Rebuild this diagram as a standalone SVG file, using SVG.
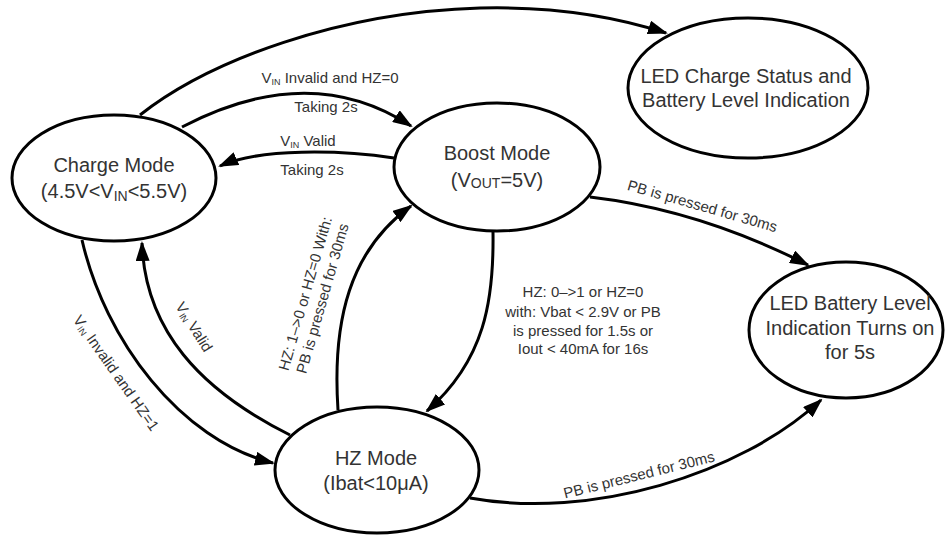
<svg xmlns="http://www.w3.org/2000/svg" width="945" height="535" viewBox="0 0 945 535">
<defs>
<marker id="arr" markerWidth="20" markerHeight="14" refX="18" refY="7" orient="auto" markerUnits="userSpaceOnUse"><path d="M0,0 L20,7 L0,14 z" fill="#000"/></marker>
<style>
.node{fill:#fff;stroke:#000;stroke-width:3}
.edge{fill:none;stroke:#000;stroke-width:3;marker-end:url(#arr)}
.nt{font-family:"Liberation Sans",Arial,sans-serif;font-size:20px;fill:#333;text-anchor:middle}
.lt{font-family:"Liberation Sans",Arial,sans-serif;font-size:15px;fill:#333;text-anchor:middle}
.sub{font-size:9px}
</style>
</defs>
<rect width="945" height="535" fill="#fff"/>
<g id="connectors">
<path class="edge" d="M140,115 C210,60 340,12 480,8 C560,6 620,18 666,33"/>
<path class="edge" d="M182,127 Q310,60 411,126"/>
<path class="edge" d="M394,158 C340,150 260,148 220,166"/>
<path class="edge" d="M590,197 Q700,210 808,265"/>
<path class="edge" d="M493,232 C494,300 485,360 427,411"/>
<path class="edge" d="M338,410 C332,320 350,250 411,206"/>
<path class="edge" d="M290,435 C200,390 145,330 142,243"/>
<path class="edge" d="M82,240 C105,340 180,440 273,463"/>
<path class="edge" d="M470,498 C590,520 740,475 821,400"/>
</g>
<g id="charge">
<ellipse class="node" cx="114" cy="178" rx="102" ry="63"/>
<text class="nt" x="114" y="172">Charge Mode</text>
<text class="nt" x="114" y="198">(4.5V&lt;V<tspan font-size="14" dy="3">IN</tspan><tspan dy="-3">&lt;5.5V)</tspan></text>
</g>
<g id="boost">
<ellipse class="node" cx="497" cy="167" rx="103" ry="64"/>
<text class="nt" x="497" y="160">Boost Mode</text>
<text class="nt" x="497" y="187">(V<tspan font-size="14" dy="1">OUT</tspan><tspan dy="-1">=5V)</tspan></text>
</g>
<g id="ledCharge">
<ellipse class="node" cx="748" cy="88" rx="120" ry="70"/>
<text class="nt" x="746" y="83">LED Charge Status and</text>
<text class="nt" x="746" y="107">Battery Level Indication</text>
</g>
<g id="ledBattery">
<ellipse class="node" cx="846" cy="330" rx="97" ry="68"/>
<text class="nt" x="850" y="310">LED Battery Level</text>
<text class="nt" x="850" y="335">Indication Turns on</text>
<text class="nt" x="850" y="359">for 5s</text>
</g>
<g id="hz">
<ellipse class="node" cx="377" cy="470" rx="102" ry="63"/>
<text class="nt" x="376" y="465">HZ Mode</text>
<text class="nt" x="376" y="490">(Ibat&lt;10μA)</text>
</g>
<g id="labels">
<text class="lt" x="330" y="83">V<tspan class="sub" dy="2">IN</tspan><tspan dy="-2"> Invalid and HZ=0</tspan></text>
<text class="lt" x="326" y="112">Taking 2s</text>
<text class="lt" x="308" y="146">V<tspan class="sub" dy="2">IN</tspan><tspan dy="-2">  Valid</tspan></text>
<text class="lt" x="312" y="175">Taking 2s</text>
<text class="lt" transform="translate(701,211) rotate(16)">PB is pressed for 30ms</text>
<g transform="translate(314,296) rotate(-74)">
<text class="lt" x="0" y="-4">HZ: 1–&gt;0 or HZ=0 With:</text>
<text class="lt" x="0" y="14">PB is pressed for 30ms</text>
</g>
<text class="lt" transform="translate(194,327) rotate(58)" y="5">V<tspan class="sub" dy="2">IN</tspan><tspan dy="-2"> Valid</tspan></text>
<text class="lt" transform="translate(116,373) rotate(55)" y="5">V<tspan class="sub" dy="2">IN</tspan><tspan dy="-2"> Invalid and HZ=1</tspan></text>
<text class="lt" x="583" y="297">HZ: 0–&gt;1 or HZ=0</text>
<text class="lt" x="583" y="317">with: Vbat &lt; 2.9V or PB</text>
<text class="lt" x="583" y="336">is pressed for 1.5s or</text>
<text class="lt" x="583" y="354">Iout &lt; 40mA  for 16s</text>
<text class="lt" transform="translate(639,475) rotate(-14)" y="5">PB is pressed for 30ms</text>
</g>
</svg>
